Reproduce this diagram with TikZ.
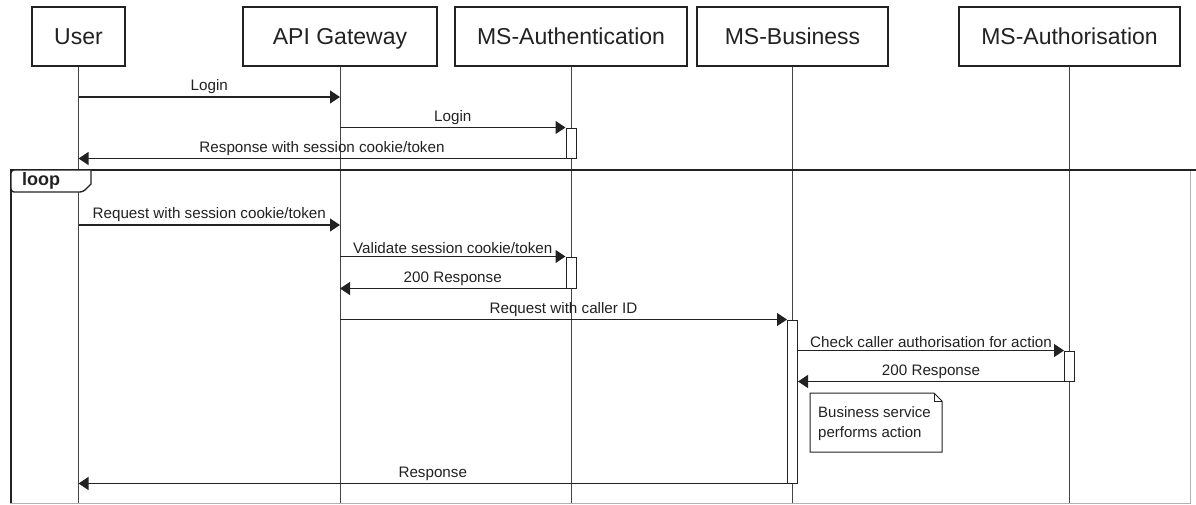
\documentclass[tikz,border=0pt]{standalone}
\usepackage{fontspec}
\setmainfont{Liberation Sans}
\usetikzlibrary{arrows.meta}
\definecolor{ink}{HTML}{222222}
\definecolor{life}{HTML}{444444}
\tikzset{
  head/.style={draw=ink,line width=1.2pt,minimum height=59pt,inner sep=0pt,
    text height=16.5pt,text depth=0pt,font=\fontsize{23}{27}\selectfont,text=ink},
  act/.style={draw=ink,fill=white,line width=1pt,minimum width=10pt,inner sep=0pt},
  msg/.style={draw=ink,line width=1.2pt,-{Triangle[length=10pt,width=13pt]}},
  lbl/.style={above=1.5pt,font=\fontsize{15.2}{17}\selectfont,text=ink,inner sep=1pt},
  lifeline/.style={draw=life,line width=1pt}
}
\begin{document}
\begin{tikzpicture}[x=1pt,y=-1pt]
\useasboundingbox[fill=white] (0,0) rectangle (1196,504);
% Drawing heads
\node[head,minimum width=93pt] (user) at (78.5,36.5) {User};
\node[head,minimum width=194pt] (gw) at (340,36.5) {API Gateway};
\node[head,minimum width=232pt] (authn) at (571,36.5) {MS-Authentication};
\node[head,minimum width=191pt] (biz) at (792.5,36.5) {MS-Business};
\node[head,minimum width=221pt] (authz) at (1069.5,36.5) {MS-Authorisation};
% Drawing lifelines
\foreach \p in {user,gw,authn,biz,authz}
  \draw[lifeline] (\p.south) -- (\p |- 0,504);
% Loop frame
\draw[gray!60,line width=1pt] (10,503) -- (1190,503) -- (1190,170);
\draw[ink,line width=1.4pt] (11,170) -- (11,503);
\draw[ink,line width=2.4pt] (10,170) -- (1196,170);
\draw[ink,line width=1.4pt,fill=white] (11,170) -- (91,170) -- (91,184)
  [rounded corners=3pt] -- (83,192) -- (11,192) -- cycle;
\node[font=\fontsize{18}{20}\selectfont\bfseries,text=ink] (loop) at (41,181) {loop};
% Done with frame; drawing activations
\node[act,minimum height=30pt] (a1) at (authn |- 0,143) {};
\node[act,minimum height=31pt] (a2) at (authn |- 0,272.5) {};
\node[act,minimum height=163pt] (a3) at (biz |- 0,401.5) {};
\node[act,minimum height=30pt] (a4) at (authz |- 0,366) {};
% Done with activations; drawing messages
\draw[msg] (user |- 0,97) -- node[lbl] {Login} (gw |- 0,97);
\draw[msg] (gw |- a1.north) -- node[lbl] {Login} (a1.north west);
\draw[msg] (a1.south west) -- node[lbl] {Response with session cookie/token} (user |- a1.south);
\draw[msg] (user |- 0,225) -- node[lbl] {Request with session cookie/token} (gw |- 0,225);
\draw[msg] (gw |- a2.north) -- node[lbl] {Validate session cookie/token} (a2.north west);
\draw[msg] (a2.south west) -- node[lbl] {200 Response} (gw |- a2.south);
\draw[msg] (gw |- a3.north) -- node[lbl] {Request with caller ID} (a3.north west);
\draw[msg] (a3.north east |- a4.north) -- node[lbl] {Check caller authorisation for action} (a4.north west);
\draw[msg] (a4.south west) -- node[lbl] {200 Response} (a3.east |- a4.south);
\draw[msg] (a3.south west) -- node[lbl] {Response} (user |- a3.south);
% Note
\draw[ink,line width=1pt,fill=white] (810,393) -- (934,393) -- (942,401) -- (942,452) -- (810,452) -- cycle;
\draw[ink,line width=0.8pt] (934,393) -- (934,401) -- (942,401);
\node[anchor=north west,align=left,inner sep=0pt,font=\fontsize{15}{20}\selectfont,text=ink] (note) at (818,406)
  {Business service\\performs action};
\end{tikzpicture}
\end{document}
